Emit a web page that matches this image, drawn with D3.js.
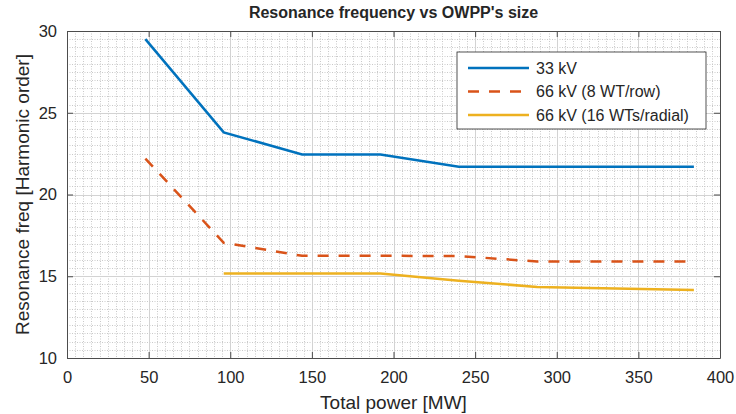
<!DOCTYPE html>
<html>
<head>
<meta charset="utf-8">
<script src="https://cdn.jsdelivr.net/npm/d3@7"></script>
<style>
  body { margin: 0; background: #fff; }
  text { font-family: "Liberation Sans", Arial, sans-serif; fill: #262626; }
</style>
</head>
<body>
<svg width="736" height="414"></svg>
<script>
// Data
var powerMW = [48, 96, 144, 192, 240, 288, 336, 384];
var kv33 = [29.5, 23.8, 22.45, 22.45, 21.7, 21.7, 21.7, 21.7];
var kv66Row = [22.2, 17.05, 16.25, 16.25, 16.24, 15.9, 15.9, 15.9];
var kv66Radial = [null, 15.17, 15.17, 15.17, 14.72, 14.35, 14.25, 14.16];
var xTicks = [0, 50, 100, 150, 200, 250, 300, 350, 400];
var yTicks = [10, 15, 20, 25, 30];
var seriesNames = ["33 kV", "66 kV (8 WT/row)", "66 kV (16 WTs/radial)"];

var svg = d3.select("svg"),
    plotL = 67, plotR = 720, plotT = 31, plotB = 358;

var x = d3.scaleLinear().domain([0, 400]).range([plotL, plotR]);
var y = d3.scaleLinear().domain([10, 30]).range([plotB, plotT]);

var grid = svg.append("g");

// minor grid, dotted
grid.selectAll(".mx").data(d3.range(0, 401, 5).filter(function(d) { return d % 50; }))
  .enter().append("line")
    .attr("x1", function(d) { return Math.round(x(d)) + 0.5; }).attr("x2", function(d) { return Math.round(x(d)) + 0.5; })
    .attr("y1", plotT).attr("y2", plotB)
    .attr("stroke", "#cacaca").attr("stroke-dasharray", "1,1.5");
grid.selectAll(".my").data(d3.range(10, 30.01, 0.5).filter(function(d) { return d % 5; }))
  .enter().append("line")
    .attr("y1", function(d) { return Math.round(y(d)) + 0.5; }).attr("y2", function(d) { return Math.round(y(d)) + 0.5; })
    .attr("x1", plotL).attr("x2", plotR)
    .attr("stroke", "#cacaca").attr("stroke-dasharray", "1,1.5");

// major grid
grid.selectAll(".gx").data(xTicks).enter().append("line")
    .attr("x1", function(d) { return Math.round(x(d)) + 0.5; }).attr("x2", function(d) { return Math.round(x(d)) + 0.5; })
    .attr("y1", plotT).attr("y2", plotB)
    .attr("stroke", "#d3d3d3");
grid.selectAll(".gy").data(yTicks).enter().append("line")
    .attr("y1", function(d) { return Math.round(y(d)) + 0.5; }).attr("y2", function(d) { return Math.round(y(d)) + 0.5; })
    .attr("x1", plotL).attr("x2", plotR)
    .attr("stroke", "#d3d3d3");

// axes (ticks inward, on all four sides)
function styleAxis(g) {
  g.select(".domain").attr("stroke", "#4d4d4d");
  g.selectAll(".tick line").attr("stroke", "#4d4d4d");
  g.selectAll(".tick text").style("font-size", "16.5px").attr("fill", "#262626");
}
svg.append("g").attr("transform", "translate(0," + plotB + ")")
  .call(d3.axisBottom(x).tickValues(xTicks).tickSizeInner(-6).tickSizeOuter(0).tickPadding(13))
  .call(styleAxis);
svg.append("g").attr("transform", "translate(0," + plotT + ")")
  .call(d3.axisTop(x).tickValues(xTicks).tickSizeInner(-6).tickSizeOuter(0).tickFormat(""))
  .call(styleAxis);
svg.append("g").attr("transform", "translate(" + plotL + ",0)")
  .call(d3.axisLeft(y).tickValues(yTicks).tickSizeInner(-6).tickSizeOuter(0).tickPadding(10))
  .call(styleAxis);
svg.append("g").attr("transform", "translate(" + plotR + ",0)")
  .call(d3.axisRight(y).tickValues(yTicks).tickSizeInner(-6).tickSizeOuter(0).tickFormat(""))
  .call(styleAxis);

// lines
var colors = ["#0072BD", "#D95319", "#EDB120"];
var dashes = [null, "11,10", null];
var series = [kv33, kv66Row, kv66Radial];
var line = d3.line()
  .defined(function(d) { return d[1] != null; })
  .x(function(d) { return x(d[0]); })
  .y(function(d) { return y(d[1]); });

series.forEach(function(vals, i) {
  svg.append("path")
    .datum(powerMW.map(function(p, j) { return [p, vals[j]]; }))
    .attr("d", line)
    .attr("fill", "none")
    .attr("stroke", colors[i])
    .attr("stroke-width", 2.5)
    .attr("stroke-dasharray", dashes[i]);
});

// legend
var lg = svg.append("g").attr("transform", "translate(457,52)");
lg.append("rect").attr("width", 249).attr("height", 77)
  .attr("fill", "#fff").attr("stroke", "#262626").attr("stroke-width", 0.8);
seriesNames.forEach(function(name, i) {
  var ly = 16 + i * 23.5;
  lg.append("line").attr("x1", 11).attr("x2", 72).attr("y1", ly).attr("y2", ly)
    .attr("stroke", colors[i]).attr("stroke-width", 2.5).attr("stroke-dasharray", dashes[i]);
  lg.append("text").attr("x", 79).attr("y", ly).attr("dy", "0.35em")
    .style("font-size", "16px").text(name);
});

// titles
svg.append("text").attr("x", (plotL + plotR) / 2).attr("y", 18)
  .attr("text-anchor", "middle").style("font-size", "16px").style("font-weight", "bold")
  .attr("fill", "#000").text("Resonance frequency vs OWPP's size");
svg.append("text").attr("x", (plotL + plotR) / 2).attr("y", 409)
  .attr("text-anchor", "middle").style("font-size", "19px").text("Total power [MW]");
svg.append("text").attr("transform", "translate(29," + ((plotT + plotB) / 2) + ") rotate(-90)")
  .attr("text-anchor", "middle").style("font-size", "19px").text("Resonance freq [Harmonic order]");
</script>
</body>
</html>
